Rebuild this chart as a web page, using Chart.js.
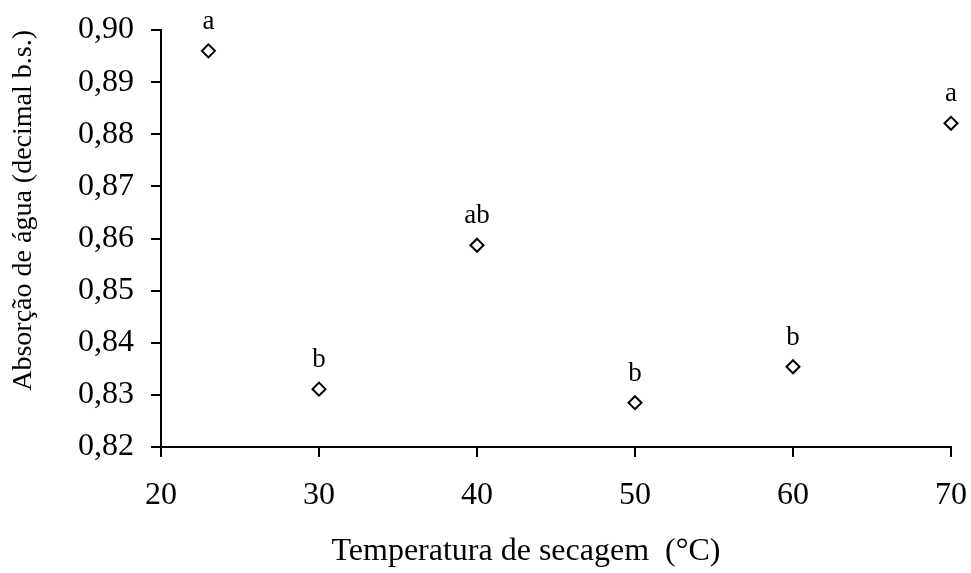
<!DOCTYPE html>
<html>
<head>
<meta charset="utf-8">
<script src="https://cdn.jsdelivr.net/npm/chart.js@4/dist/chart.umd.min.js"></script>
<style>
  html, body { margin: 0; padding: 0; background: #ffffff; }
  #wrap { width: 971px; height: 573px; }
</style>
</head>
<body>
<div id="wrap"><canvas id="chart" width="971" height="573"></canvas></div>
<script>
// Drying temperature (°C) and water absorption (decimal, dry basis)
const temperatures = [23, 30, 40, 50, 60, 70];
const absorption = [0.8960, 0.8311, 0.8587, 0.8285, 0.8354, 0.8821];
// Mean-comparison letters printed above each point
const groupLetters = ['a', 'b', 'ab', 'b', 'b', 'a'];

const xTicks = [20, 30, 40, 50, 60, 70];
const yTicks = [0.82, 0.83, 0.84, 0.85, 0.86, 0.87, 0.88, 0.89, 0.90];

const xTitle = 'Temperatura de secagem  (°C)';
const yTitle = 'Absorção de água (decimal b.s.)';

const SERIF = '"Liberation Serif", "Times New Roman", serif';

// Letters above the points, plus the x-axis title set a little left of centre
const annotationPlugin = {
  id: 'annotations',
  afterDatasetsDraw(chart) {
    const ctx = chart.ctx;
    const meta = chart.getDatasetMeta(0);
    ctx.save();
    ctx.fillStyle = '#000';
    ctx.font = '27px ' + SERIF;
    ctx.textAlign = 'center';
    ctx.textBaseline = 'alphabetic';
    meta.data.forEach((pt, i) => {
      ctx.fillText(groupLetters[i], pt.x, pt.y - 22);
    });

    const area = chart.chartArea;
    ctx.font = '32px ' + SERIF;
    ctx.fillText(xTitle, (area.left + area.right) / 2 - 30, chart.height - 13);
    ctx.restore();
  }
};

new Chart(document.getElementById('chart'), {
  type: 'scatter',
  data: {
    datasets: [{
      data: temperatures.map((t, i) => ({ x: t, y: absorption[i] })),
      pointStyle: 'rectRot',
      pointRadius: 6.5,
      pointBorderWidth: 2,
      borderColor: '#000',
      backgroundColor: '#fff',
      showLine: false,
      clip: false
    }]
  },
  options: {
    responsive: false,
    animation: false,
    events: [],
    layout: { padding: { left: 0, top: 30, right: 20, bottom: 4 } },
    plugins: {
      legend: { display: false },
      tooltip: { enabled: false }
    },
    scales: {
      x: {
        type: 'linear',
        min: 20,
        max: 70,
        afterBuildTicks: (s) => { s.ticks = xTicks.map(v => ({ value: v })); },
        afterFit: (s) => { s.height = 122; s.paddingLeft = 0; s.paddingRight = 0; },
        grid: { drawOnChartArea: false, color: '#000', lineWidth: 2, tickLength: 10 },
        border: { display: true, color: '#000', width: 2 },
        ticks: {
          color: '#000',
          padding: 19,
          maxRotation: 0,
          font: { family: SERIF, size: 32 },
          callback: (v) => String(v)
        },
        title: { display: false }
      },
      y: {
        type: 'linear',
        min: 0.82,
        max: 0.90,
        afterBuildTicks: (s) => { s.ticks = yTicks.map(v => ({ value: v })); },
        afterFit: (s) => { s.width = 161; s.paddingTop = 0; s.paddingBottom = 0; },
        grid: { drawOnChartArea: false, color: '#000', lineWidth: 2, tickLength: 10 },
        border: { display: true, color: '#000', width: 2 },
        ticks: {
          color: '#000',
          padding: 17,
          font: { family: SERIF, size: 32 },
          callback: (v) => Number(v).toFixed(2).replace('.', ',')
        },
        title: {
          display: true,
          text: yTitle,
          color: '#000',
          align: 'end',
          font: { family: SERIF, size: 28 },
          padding: { top: 7, bottom: 0 }
        }
      }
    }
  },
  plugins: [annotationPlugin]
});
</script>
</body>
</html>
